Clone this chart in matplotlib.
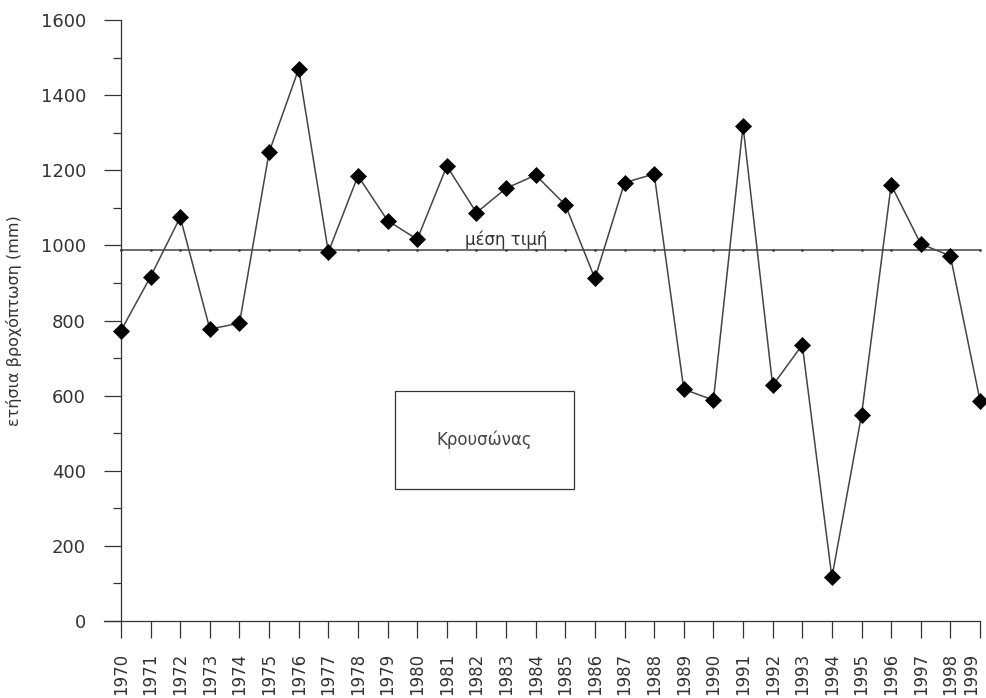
import matplotlib.pyplot as plt
from matplotlib.patches import Rectangle
from matplotlib.ticker import MultipleLocator

plt.rcParams['font.family'] = 'DejaVu Sans'

# Data
years = list(range(1970, 2000))
rain = [773, 917, 1075, 777, 793, 1248, 1470, 982, 1185, 1066,
        1016, 1211, 1087, 1152, 1187, 1108, 912, 1167, 1190, 617,
        588, 1318, 627, 735, 116, 548, 1161, 1004, 972, 587]
mean_value = 987
mean_label = 'μέση τιμή'
station = 'Κρουσώνας'
ylabel = 'ετήσια βροχόπτωση (mm)'

ink = '#333333'

# Plot setup
fig = plt.figure(figsize=(9.87, 6.98), dpi=100)
fig.patch.set_facecolor('white')
ax = fig.add_axes([104 / 987, 77 / 698, 876 / 987, 601 / 698])

# mean line with small year marks
ax.plot(years, [mean_value] * len(years), c='#444444', linewidth=1.1,
        marker='.', markersize=2, clip_on=False, zorder=2)
ax.text(1983, mean_value + 4, mean_label, ha='center', va='bottom',
        fontsize=12, color=ink)

# rainfall series
ax.plot(years, rain, c='#444444', linewidth=1.1, marker='D', markersize=8.5,
        markerfacecolor='black', markeredgecolor='black', markeredgewidth=0.5,
        clip_on=False, zorder=3)

# Axes
ax.set_xlim(1970 - 17 / 29.62, 1999)
ax.set_ylim(0, 1600)
ax.spines['left'].set_position(('data', 1970))
for side in ['top', 'right']:
    ax.spines[side].set_visible(False)
for side in ['left', 'bottom']:
    ax.spines[side].set_color(ink)
    ax.spines[side].set_linewidth(0.9)

ax.set_xticks(years)
ax.set_xticklabels([str(y) for y in years], rotation=90, va='top')
ax.get_xticklabels()[-1].set_ha('right')  # keep the last label inside the figure
ax.yaxis.set_major_locator(MultipleLocator(200))
ax.yaxis.set_minor_locator(MultipleLocator(100))

ax.tick_params(axis='x', which='major', direction='out', length=12.2, width=0.9,
               color=ink, labelcolor=ink, labelsize=12, pad=11)
ax.tick_params(axis='y', which='major', direction='out', length=12.2, width=0.9,
               color=ink, labelcolor=ink, labelsize=13, pad=13)
ax.tick_params(axis='y', which='minor', direction='out', length=6, width=0.9,
               color=ink)

ax.set_ylabel(ylabel, fontsize=11.5, color=ink)
ax.yaxis.set_label_coords(-0.094, 0.5)

# station box
fig.patches.append(Rectangle((395 / 987, 209 / 698), 179 / 987, 98 / 698,
                             transform=fig.transFigure, fill=False,
                             edgecolor=ink, linewidth=0.9))
fig.text(484 / 987, 258 / 698, station, ha='center', va='center',
         fontsize=12, color='#444444')

plt.savefig('out.png', dpi=100)
